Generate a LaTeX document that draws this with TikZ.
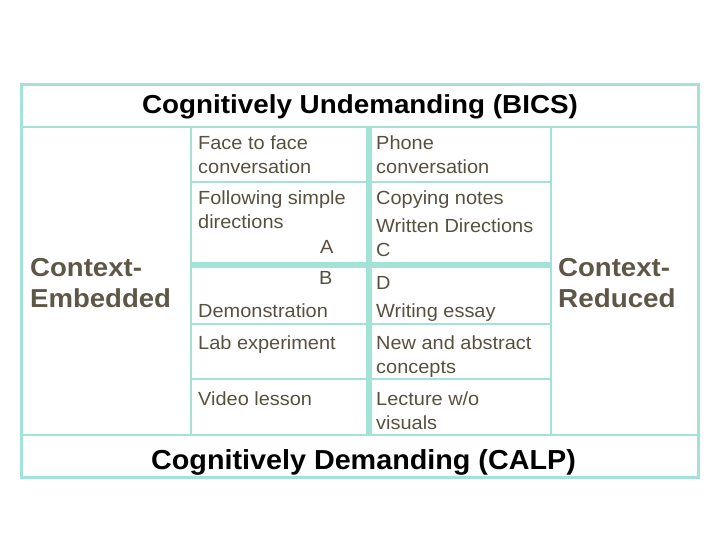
\documentclass[tikz,border=0pt]{standalone}
\usepackage{fontspec}
\setmainfont{Liberation Sans}
\definecolor{teal}{HTML}{A3E2D7}
\definecolor{celltext}{HTML}{57503F}
\definecolor{sidetext}{HTML}{5E5646}
\newcommand{\wide}[2]{\scalebox{#1}[1]{#2}}
\begin{document}
\begin{tikzpicture}[x=1bp,y=-1bp,
  rule/.style={draw=teal,line width=2bp},
  thickrule/.style={draw=teal,line width=5.5bp},
  outer/.style={draw=teal,line width=3bp},
  cell/.style={anchor=base west,inner sep=0pt,text=celltext,font=\fontsize{19bp}{23bp}\selectfont},
  head/.style={anchor=base,inner sep=0pt,text=black,font=\fontsize{26bp}{30bp}\selectfont\bfseries},
  side/.style={anchor=base west,inner sep=0pt,text=sidetext,font=\fontsize{26bp}{30bp}\selectfont\bfseries}]
\useasboundingbox (0,0) rectangle (720,540);
% grid
\draw[rule] (21,127) -- (698,127);
\draw[rule] (21,435) -- (698,435);
\draw[rule] (191,127) -- (191,435);
\draw[rule] (551,127) -- (551,435);
\draw[rule] (191,182) -- (551,182);
\draw[rule] (191,324) -- (551,324);
\draw[rule] (191,379) -- (551,379);
\draw[thickrule] (191,265) -- (551,265);
\draw[thickrule] (369,127) -- (369,435);
\draw[outer] (21,85) rectangle (698,477);
% headers
\node[head] (top) at (360,114) {\wide{1.07}{Cognitively Undemanding (BICS)}};
\node[head] (bot) at (363.5,469) {\wide{1.045}{\fontsize{27.5bp}{30bp}\selectfont Cognitively Demanding (CALP)}};
\node[side] (ce1) at (30,277) {\wide{1.06}{Context-}};
\node[side] (ce2) at (30,307) {\wide{1.06}{Embedded}};
\node[side] (cr1) at (558,277) {\wide{1.06}{Context-}};
\node[side] (cr2) at (558,307) {\wide{1.07}{Reduced}};
% left column
\node[cell] (l1a) at (198,150) {\wide{1.05}{Face to face}};
\node[cell] (l1b) at (198,174) {\wide{1.05}{conversation}};
\node[cell] (l2a) at (198,205) {\wide{1.05}{Following simple}};
\node[cell] (l2b) at (198,229) {\wide{1.05}{directions}};
\node[cell] (la) at (320,254) {\wide{1.05}{A}};
\node[cell] (lb) at (319,285) {\wide{1.05}{B}};
\node[cell] (l3) at (198,317) {\wide{1.05}{Demonstration}};
\node[cell] (l4) at (198,349) {\wide{1.05}{Lab experiment}};
\node[cell] (l5) at (198,405) {\wide{1.05}{Video lesson}};
% right column
\node[cell] (r1a) at (376,150) {\wide{1.05}{Phone}};
\node[cell] (r1b) at (376,174) {\wide{1.05}{conversation}};
\node[cell] (r2a) at (376,205) {\wide{1.05}{Copying notes}};
\node[cell] (r2b) at (376,233) {\wide{1.05}{Written Directions}};
\node[cell] (rc) at (376,257) {\wide{1.05}{C}};
\node[cell] (rd) at (376,289) {\wide{1.05}{D}};
\node[cell] (r3) at (376,317) {\wide{1.05}{Writing essay}};
\node[cell] (r4a) at (376,349) {\wide{1.05}{New and abstract}};
\node[cell] (r4b) at (376,373) {\wide{1.05}{concepts}};
\node[cell] (r5a) at (376,405) {\wide{1.05}{Lecture w/o}};
\node[cell] (r5b) at (376,429) {\wide{1.05}{visuals}};
\end{tikzpicture}
\end{document}
